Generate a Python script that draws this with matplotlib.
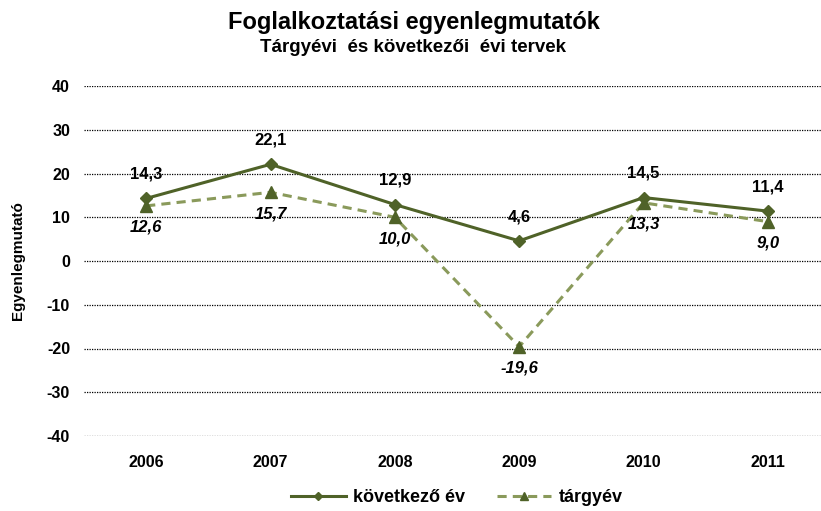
import matplotlib.pyplot as plt
import numpy as np

plt.rcParams['font.family'] = ['Liberation Sans', 'DejaVu Sans']

years = ["2006", "2007", "2008", "2009", "2010", "2011"]
kovetkezo = [14.3, 22.1, 12.9, 4.6, 14.5, 11.4]
targyev = [12.6, 15.7, 10.0, -19.6, 13.3, 9.0]
yticks = [40, 30, 20, 10, 0, -10, -20, -30, -40]


def fmt(v):
    return f"{v:.1f}".replace(".", ",")


def main():
    fig = plt.figure(figsize=(8.21, 5.11), dpi=100)
    # the plot area runs a little past the right edge, as in the original
    ax = fig.add_axes([84 / 821, 1 - 436 / 511, 746 / 821, 350 / 511])

    x = np.arange(len(years))
    ax.plot(x, kovetkezo, color="#4F6228", lw=2.2, marker="D", ms=6,
            label="következő év", zorder=3)
    ax.plot(x, targyev, color="#8A9A5B", lw=2.2, ls=(0, (3, 2)), marker="^",
            ms=8, mfc="#4F6228", mec="#4F6228", label="tárgyév", zorder=3)

    for xi, v in zip(x, kovetkezo):
        ax.annotate(fmt(v), (xi, v), xytext=(0, 12), textcoords="offset points",
                    ha="center", va="bottom", fontsize=12, fontweight="bold")
    for xi, v in zip(x, targyev):
        ax.annotate(fmt(v), (xi, v), xytext=(0, -10), textcoords="offset points",
                    ha="center", va="top", fontsize=12, fontweight="bold",
                    style="italic")

    ax.set_xlim(-0.5, len(years) - 0.5)
    ax.set_ylim(-40, 40)
    ax.set_yticks(yticks)
    ax.set_yticklabels([str(t) for t in yticks], fontsize=11.5, fontweight="bold")
    ax.set_xticks(x)
    ax.set_xticklabels(years, fontsize=11.5, fontweight="bold")
    ax.tick_params(length=0, pad=10)
    ax.tick_params(axis="x", pad=14)
    for s in ax.spines.values():
        s.set_visible(False)
    ax.yaxis.grid(True, color="black", lw=0.9, ls=(0, (1, 1)))
    ax.set_axisbelow(True)

    fig.text(18 / 821, 1 - 261 / 511, "Egyenlegmutató", rotation=90,
             ha="center", va="center", fontsize=11, fontweight="bold")
    fig.text(414 / 821, 1 - 22 / 511, "Foglalkoztatási egyenlegmutatók",
             ha="center", va="center", fontsize=17, fontweight="bold")
    fig.text(413 / 821, 1 - 47 / 511, "Tárgyévi  és következői  évi tervek",
             ha="center", va="center", fontsize=13.5, fontweight="bold")

    fig.legend(loc="center", bbox_to_anchor=(457 / 821, 1 - 498 / 511),
               ncol=2, frameon=False, prop={"weight": "bold", "size": 13},
               handlelength=3.0, columnspacing=1.8, handletextpad=0.4,
               markerscale=0.7)

    fig.savefig("out.png", dpi=100)


if __name__ == "__main__":
    main()
